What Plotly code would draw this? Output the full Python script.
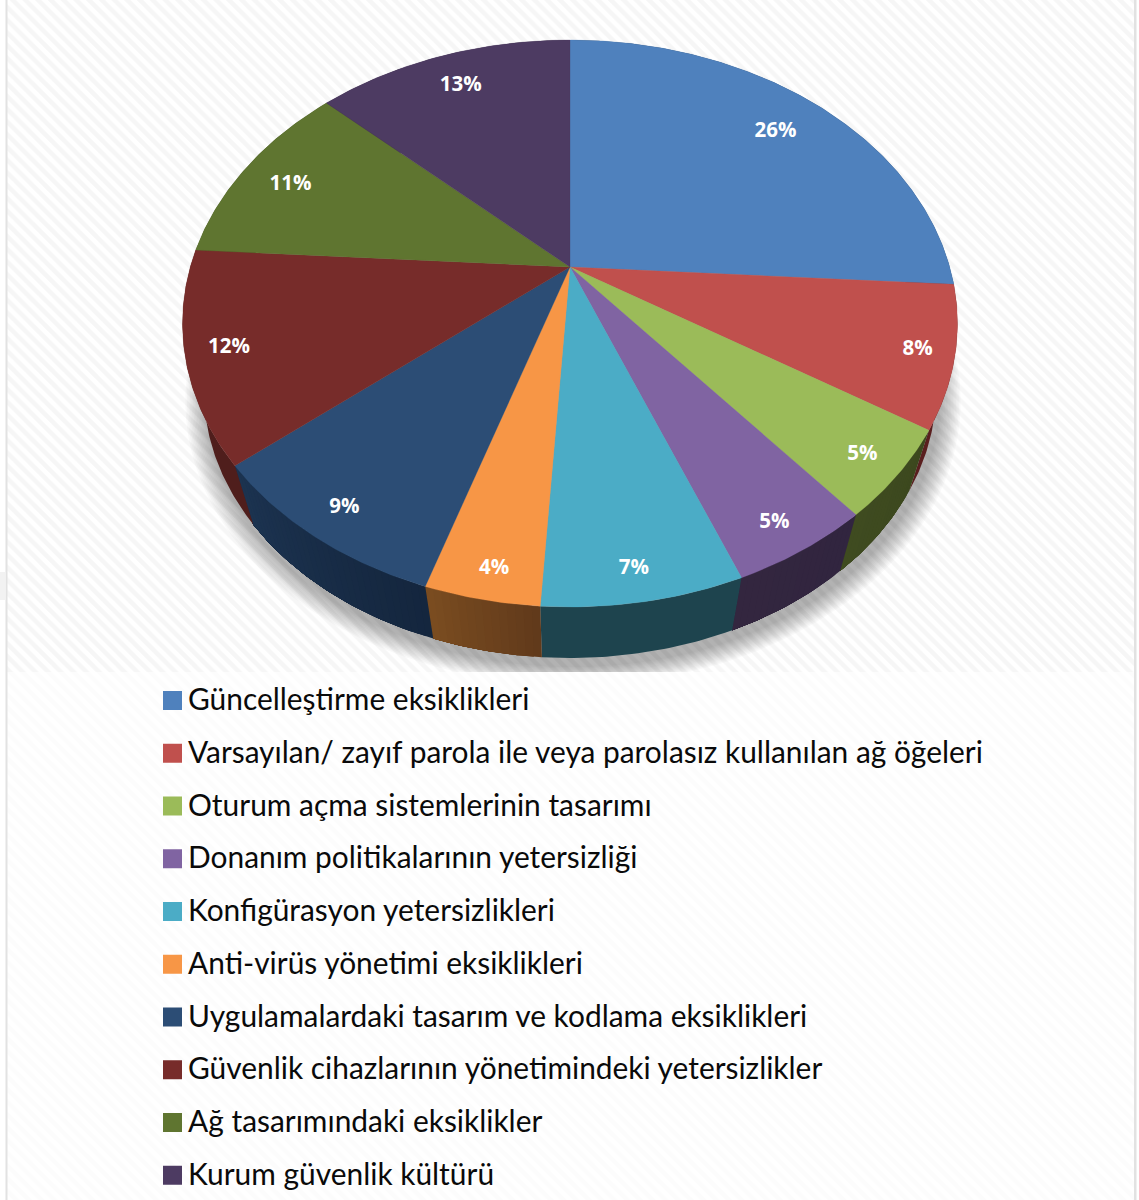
import numpy as np
import plotly.graph_objects as go

# Share of each finding category, in percent
categories = [
    "Güncelleştirme eksiklikleri",
    "Varsayılan/ zayıf parola ile veya parolasız kullanılan ağ öğeleri",
    "Oturum açma sistemlerinin tasarımı",
    "Donanım politikalarının yetersizliği",
    "Konfigürasyon yetersizlikleri",
    "Anti-virüs yönetimi eksiklikleri",
    "Uygulamalardaki tasarım ve kodlama eksiklikleri",
    "Güvenlik cihazlarının yönetimindeki yetersizlikler",
    "Ağ tasarımındaki eksiklikler",
    "Kurum güvenlik kültürü",
]
values = [26, 8, 5, 5, 7, 4, 9, 12, 11, 13]

top_colors = ["#4f81bd", "#c0504d", "#9bbb59", "#8064a2", "#4bacc6",
              "#f79646", "#2c4d75", "#772c2a", "#5f7530", "#4d3b62"]
# Side-wall shading: (clockwise start of slice, clockwise end of slice)
wall_colors = [("#25405f", "#25405f"), ("#5a1f1f", "#5a1f1f"), ("#3c481e", "#3f4b20"),
               ("#31253f", "#33263f"), ("#1e444e", "#1e444e"), ("#613a1b", "#7a4c20"),
               ("#14263e", "#1c3350"), ("#4f1e1c", "#4f1e1c"), ("#3a4820", "#3a4820"),
               ("#30253e", "#30253e")]
# Where each percentage sits: fraction of the radius, and a small turn off the mid-angle
label_radius = [0.826, 0.908, 0.904, 0.906, 0.911, 0.916, 0.90, 0.892, 0.853, 0.848]
label_turn = [0.0, -0.3, 0.0, 0.5, 0.3, -0.5, 0.0, 0.3, -0.35, 0.3]

W, H = 1139, 1200

# Perspective view of the disc, in page pixels
CX, CY, RX, RY, PERSP = 570.0, 267.0, 379.7, -219.0, 0.1993
# The underside is the top face shrunk toward a vanishing point below the chart
DEPTH_SCALE, VANISH_Y = 0.945, 1534.0


def project(theta_deg, r=1.0):
    t = np.radians(theta_deg)
    u, v = r * np.sin(t), r * np.cos(t)
    den = 1 + PERSP * v
    return CX + RX * u / den, (RY * v + CY) / den


def lower(x, y):
    return CX + DEPTH_SCALE * (x - CX), VANISH_Y + DEPTH_SCALE * (y - VANISH_Y)


def mix(a, b, f):
    ca = [int(a[i:i + 2], 16) for i in (1, 3, 5)]
    cb = [int(b[i:i + 2], 16) for i in (1, 3, 5)]
    return "rgb(%d,%d,%d)" % tuple(round(p + (q - p) * f) for p, q in zip(ca, cb))


def hatch(fg, solidity):
    return dict(shape="\\", fgcolor=fg, bgcolor="#ffffff", size=9, solidity=solidity)


def poly(xs, ys, color, lw=0.0, **kw):
    return go.Scatter(x=list(xs), y=list(ys), mode="lines", fill="toself", fillcolor=color,
                      line=dict(color=color, width=lw), hoverinfo="skip",
                      showlegend=False, **kw)


fig = go.Figure()

# Hatched backdrop behind the pie
fig.add_trace(go.Scatter(x=[7, 1134, 1134, 7, 7], y=[0, 0, 672, 672, 0], mode="lines",
                         fill="toself", fillcolor="#ffffff", fillpattern=hatch("#eeeeee", 0.5),
                         line=dict(width=0), hoverinfo="skip", showlegend=False))

# Soft drop shadow under the disc
ring = np.linspace(0, 360, 241)
rx, ry = project(ring)
sx, sy = lower(rx, ry)
for i in range(14):
    grow = 1 + 0.0042 * (14 - i)
    fig.add_trace(poly(CX + 3 + (sx - CX) * grow, 343 + (sy - 335) * grow, "rgba(0,0,0,0.024)"))

# Plain panel under the legend, covering the bottom of the shadow
fig.add_trace(go.Scatter(x=[7, 1134, 1134, 7, 7], y=[672, 672, 1200, 1200, 672], mode="lines",
                         fill="toself", fillcolor="#ffffff", fillpattern=hatch("#fafafa", 0.5),
                         line=dict(width=0), hoverinfo="skip", showlegend=False))

# Side wall: each slice paints successively shorter overlapping bands so the shade drifts
edges = np.concatenate([[0], np.cumsum(values)]) * 3.6
for i in range(len(values)):
    a0, a1 = edges[i], edges[i + 1]
    gradient = wall_colors[i][0] != wall_colors[i][1]
    n = max(1, int((a1 - a0) / 1.0)) if gradient else 1
    steps = np.linspace(a0, a1, n + 1)
    for j in range(n):
        arc = np.linspace(steps[j], a1, max(3, int(a1 - steps[j]) * 2))
        ax, ay = project(arc)
        bx, by = lower(ax, ay)
        col = mix(wall_colors[i][0], wall_colors[i][1], j / max(1, n - 1))
        fig.add_trace(poly(np.r_[ax, bx[::-1], ax[0]], np.r_[ay, by[::-1], ay[0]], col))

# Top face
for i in range(len(values)):
    arc = np.linspace(edges[i], edges[i + 1], max(3, int(edges[i + 1] - edges[i]) * 2))
    ax, ay = project(arc)
    fig.add_trace(poly(np.r_[CX, ax, CX], np.r_[CY, ay, CY], top_colors[i], lw=0.3,
                       name=categories[i]))

# Percentage labels
mids = (edges[:-1] + edges[1:]) / 2 + np.array(label_turn)
lx, ly = project(mids, np.array(label_radius))
fig.add_trace(go.Scatter(x=lx, y=ly + 3, mode="text", text=[f"{v}%" for v in values],
                         textposition="middle center",
                         textfont=dict(family="Open Sans", size=20.5, color="#ffffff", weight="bold"),
                         hoverinfo="skip", showlegend=False))

# Legend: square swatch and caption per category
rows = 700.5 + 52.75 * np.arange(len(categories))
fig.add_trace(go.Scatter(x=[172.5] * len(categories), y=rows, mode="markers",
                         marker=dict(symbol="square", size=19, color=top_colors, line=dict(width=0)),
                         hoverinfo="skip", showlegend=False))
fig.add_trace(go.Scatter(x=[188] * len(categories), y=rows + 2.2, mode="text", text=categories,
                         textposition="middle right",
                         textfont=dict(family="Lato", size=29.9, color="#0a0a0a"),
                         hoverinfo="skip", showlegend=False))

edge_shapes = [
    dict(type="rect", xref="x", yref="y", x0=5.5, x1=7.5, y0=0, y1=1200,
         fillcolor="#e2e2e2", line=dict(width=0), layer="above"),
    dict(type="rect", xref="x", yref="y", x0=1134, x1=1136.5, y0=0, y1=1200,
         fillcolor="#e2e2e2", line=dict(width=0), layer="above"),
    dict(type="rect", xref="x", yref="y", x0=0, x1=5.5, y0=572, y1=600,
         fillcolor="#f2f2f2", line=dict(width=0), layer="above"),
]

fig.update_layout(
    width=W, height=H, autosize=False,
    margin=dict(l=0, r=0, t=0, b=0),
    paper_bgcolor="#ffffff", plot_bgcolor="#ffffff",
    showlegend=False, shapes=edge_shapes,
    xaxis=dict(range=[0, W], visible=False, fixedrange=True),
    yaxis=dict(range=[H, 0], visible=False, fixedrange=True),
)
fig.write_html("out.html", config=dict(displayModeBar=False))
